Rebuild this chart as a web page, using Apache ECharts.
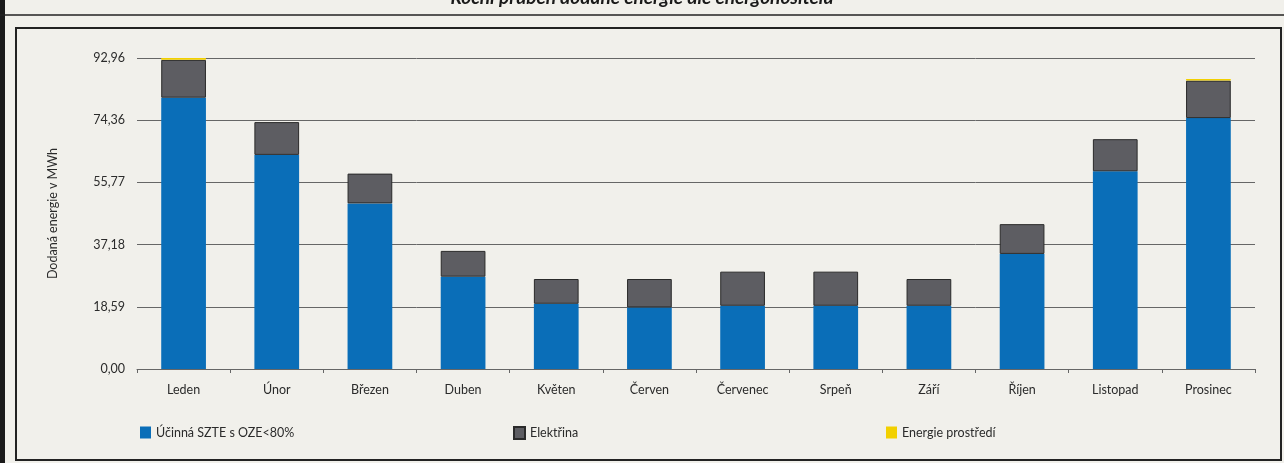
<!DOCTYPE html>
<html>
<head>
<meta charset="utf-8">
<script src="https://cdn.jsdelivr.net/npm/echarts@6/dist/echarts.min.js"></script>
<style>
html,body{margin:0;padding:0;background:#f1f0eb;}
#c{width:1284px;height:463px;}
</style>
</head>
<body>
<div id="c"></div>
<script>
const titleText = "Roční průběh dodané energie dle energonositelů";
const categories = ["Leden","Únor","Březen","Duben","Květen","Červen","Červenec","Srpeň","Září","Říjen","Listopad","Prosinec"];
const seriesNames = ["Účinná SZTE s OZE<80%","Elektřina","Energie prostředí"];
const szte = [81.1, 64.0, 49.5, 27.6, 19.5, 18.4, 18.9, 18.9, 18.9, 34.4, 59.1, 75.0];
const elektrina = [11.3, 9.8, 8.9, 7.7, 7.4, 8.5, 10.2, 10.2, 8.0, 8.9, 9.6, 11.2];
const prostredi = [0.6, 0, 0, 0, 0, 0, 0, 0, 0, 0, 0, 0.5];
const yTickLabels = ["0,00","18,59","37,18","55,77","74,36","92,96"];
const yMax = 92.96;
const yStep = 18.592;
const yName = "Dodaná energie v MWh";

const chart = echarts.init(document.getElementById('c'));
const font = 'Lato';
const txt = '#2b2b2b';
chart.setOption({
  animation:false,
  backgroundColor:'#f1f0eb',
  textStyle:{fontFamily:font},
  title:{text:titleText,left:'center',top:-17,textStyle:{fontSize:19,fontWeight:'bold',fontStyle:'italic',color:'#1a1a1a',fontFamily:font}},
  graphic:[
    {type:'rect',shape:{x:0,y:0,width:5,height:463},style:{fill:'#1a1a1a'},silent:true},
    {type:'line',shape:{x1:0,y1:15,x2:1284,y2:15},style:{stroke:'#222',lineWidth:1.5},silent:true},
    {type:'rect',shape:{x:16,y:28,width:1265,height:432},style:{fill:'none',stroke:'#222',lineWidth:2},silent:true}
  ],
  legend:[
    {data:[seriesNames[0]],left:135,top:421,itemWidth:11,itemHeight:12,icon:'rect',textStyle:{fontSize:12.5,color:txt,fontFamily:font}},
    {data:[seriesNames[1]],left:508,top:421,itemWidth:11,itemHeight:12,icon:'rect',textStyle:{fontSize:12.5,color:txt,fontFamily:font}},
    {data:[seriesNames[2]],left:881,top:421,itemWidth:11,itemHeight:12,icon:'rect',textStyle:{fontSize:12.5,color:txt,fontFamily:font}}
  ],
  grid:{left:137,right:29,top:58,bottom:94,containLabel:false},
  xAxis:{type:'category',data:categories,
    axisLine:{lineStyle:{color:'#666',width:1}},
    axisTick:{show:true,length:4,lineStyle:{color:'#666'}},
    axisLabel:{color:txt,fontSize:12.5,margin:14,fontFamily:font}
  },
  yAxis:{type:'value',min:0,max:yMax,interval:yStep,
    name:yName,nameLocation:'middle',nameGap:78,nameRotate:90,
    nameTextStyle:{fontSize:12.5,color:txt,fontFamily:font},
    axisLine:{show:false},axisTick:{show:false},
    axisLabel:{color:txt,fontSize:12.5,margin:12,fontFamily:font,
      formatter:v=>{const i=Math.round(v/yStep);return yTickLabels[i]!==undefined?yTickLabels[i]:'';}},
    splitLine:{lineStyle:{color:'#666',width:1}}
  },
  series:[
    {name:seriesNames[0],type:'bar',stack:'a',data:szte,barWidth:'48%',itemStyle:{color:'#0a6eb8'}},
    {name:seriesNames[1],type:'bar',stack:'a',data:elektrina,itemStyle:{color:'#5d5d62',borderColor:'#2a2a2a',borderWidth:1}},
    {name:seriesNames[2],type:'bar',stack:'a',data:prostredi,itemStyle:{color:'#f2d000'}}
  ]
});
</script>
</body>
</html>
